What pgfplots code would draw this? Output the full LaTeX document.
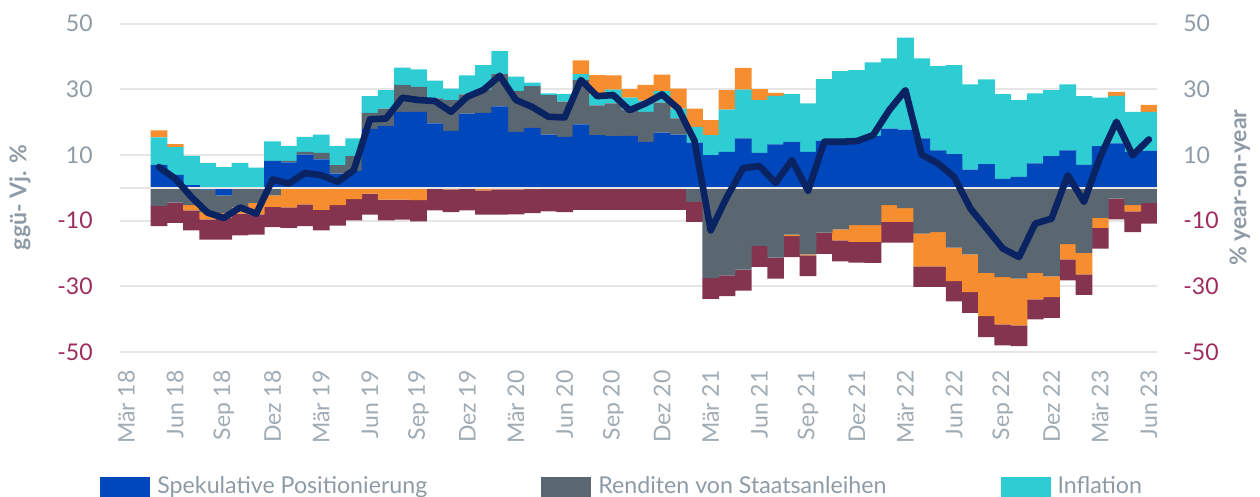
\documentclass[border=0pt]{standalone}
\usepackage{fontspec}
\setmainfont{Lato}
\usepackage{pgfplots}
\pgfplotsset{compat=1.18}
\usepackage{pgfplotstable}
\definecolor{cblue}{HTML}{0047BB}
\definecolor{cgray}{HTML}{5B6770}
\definecolor{ccyan}{HTML}{2ECCD3}
\definecolor{corange}{HTML}{F68D2E}
\definecolor{cmaroon}{HTML}{85344F}
\definecolor{cline}{HTML}{0A2463}
\definecolor{tgray}{HTML}{8E9BA6}
\definecolor{xgray}{HTML}{A0ABB4}
\definecolor{tneg}{HTML}{9E2B5E}
\definecolor{gridc}{HTML}{E6E6E6}

% positive contributions (x: 0 = Mar 2018)
\pgfplotstableread{
x blue gray cyan orange
2 7.0 0 8.3 2.2
3 3.9 0 8.5 0.9
4 0.8 0 8.9 0
5 0 0 7.6 0
6 0 0 6.3 0
7 0 0 7.6 0
8 0 0 6.1 0
9 8.2 0 5.9 0
10 7.7 0.5 4.5 0
11 10.1 0.8 4.6 0
12 8.6 2.0 5.6 0
13 4.3 2.6 5.8 0
14 5.1 4.5 5.4 0
15 17.9 4.9 5.1 0
16 18.8 5.3 5.6 0
17 23.1 8.2 5.3 0
18 23.1 7.6 5.3 0
19 19.6 7.6 5.4 0
20 17.3 9.4 3.5 0
21 22.6 5.8 5.8 0
22 22.8 7.1 7.4 0
23 24.8 9.8 7.0 0
24 17.0 12.4 4.4 0
25 18.2 12.7 1.1 0
26 16.2 12.0 0.5 0
27 15.5 10.7 2.3 0
28 19.3 13.5 1.8 4.2
29 16.0 9.1 3.3 5.9
30 15.7 10.0 4.2 4.3
31 15.8 8.0 3.6 2.6
32 14.0 9.1 3.4 4.8
33 16.8 9.1 3.5 5.0
34 16.2 4.9 3.0 6.1
35 13.7 0 4.8 5.6
36 9.9 0 6.1 4.6
37 10.9 0 12.9 5.9
38 15.0 0 14.9 6.6
39 10.6 0 16.1 3.3
40 13.2 0 14.8 0.9
41 14.0 0 14.5 0
42 10.9 0 14.8 0
43 14.3 0 18.8 0
44 14.8 0 20.7 0
45 14.5 0 21.3 0
46 15.8 0 22.4 0
47 18.0 0 21.4 0
48 17.7 0 28.0 0
49 15.0 0 24.4 0
50 11.4 0 25.6 0
51 10.2 0 27.1 0
52 5.5 0 26.0 0
53 7.2 0 25.8 0
54 2.7 0 25.8 0
55 3.3 0 23.4 0
56 7.4 0 21.3 0
57 9.6 0 20.1 0
58 11.4 0 20.1 0
59 7.0 0 20.9 0
60 12.7 0 14.7 0
61 13.5 0 14.5 1.2
62 10.9 0 12.2 0
63 11.2 0 11.9 2.1
}\pos

% negative contributions
\pgfplotstableread{
x blue gray orange maroon
2 0 -5.5 0 -6.2
3 0 -4.5 0 -6.2
4 0 -5.3 -1.6 -6.1
5 -0.6 -6.8 -2.2 -6.2
6 -2.3 -5.4 -1.5 -6.6
7 0 -6.0 -1.9 -6.6
8 0 -4.6 -3.5 -6.2
9 0 -2.3 -3.5 -6.2
10 0 0 -6.0 -6.2
11 0 0 -5.1 -6.6
12 0 0 -6.7 -6.3
13 0 0 -5.3 -6.2
14 0 0 -3.5 -6.4
15 0 0 -1.8 -6.4
16 0 0 -3.6 -6.3
17 0 0 -3.6 -6.1
18 0 0 -3.8 -6.4
19 0 0 -0.2 -6.7
20 0 0 -0.5 -6.9
21 0 0 -0.2 -6.7
22 0 0 -0.8 -7.4
23 0 0 -0.5 -7.7
24 0 0 -0.5 -7.6
25 0 0 -0.4 -7.3
26 0 0 -0.3 -6.9
27 0 0 -0.3 -7.1
28 0 0 0 -6.7
29 0 0 0 -6.7
30 0 0 0 -6.7
31 0 0 0 -6.7
32 0 0 0 -6.7
33 0 0 0 -6.7
34 0 0 0 -6.7
35 0 -4.3 0 -6.1
36 0 -27.5 0 -6.3
37 0 -26.7 0 -6.3
38 0 -24.9 0 -6.4
39 0 -17.7 0 -6.4
40 0 -21.3 0 -6.4
41 0 -14.3 -0.4 -6.4
42 0 -20.3 -0.3 -6.3
43 0 -13.7 0 -6.4
44 0 -12.7 -3.3 -6.4
45 0 -11.4 -5.1 -6.3
46 0 -11.4 -5.1 -6.4
47 0 -5.3 -5.1 -6.3
48 0 -6.2 -4.2 -6.3
49 0 -14.0 -9.9 -6.3
50 0 -13.5 -10.4 -6.3
51 0 -18.2 -10.2 -6.2
52 0 -20.3 -11.5 -6.3
53 0 -25.9 -13.2 -6.4
54 0 -27.2 -14.4 -6.4
55 0 -27.7 -14.2 -6.3
56 0 -25.9 -8.1 -6.1
57 0 -27.0 -6.3 -6.3
58 0 -17.2 -4.6 -6.4
59 0 -19.8 -6.6 -6.2
60 0 -9.2 -3.0 -6.3
61 0 -3.3 0 -6.3
62 0 -5.3 -1.9 -6.3
63 0 -4.6 0 -6.3
}\neg

% total, % year-on-year
\pgfplotstableread{
x v
2 6.3
3 2.8
4 -2.8
5 -7.6
6 -9.2
7 -6.0
8 -7.9
9 2.5
10 1.3
11 4.5
12 3.8
13 1.8
14 5.3
15 20.8
16 21.1
17 27.4
18 26.7
19 26.4
20 23.1
21 27.7
22 29.8
23 34.1
24 26.7
25 24.6
26 21.6
27 21.4
28 32.8
29 27.9
30 28.2
31 23.6
32 25.7
33 28.4
34 24.1
35 14.3
36 -13.0
37 -2.8
38 6.0
39 6.6
40 1.5
41 8.4
42 -0.9
43 14.0
44 14.0
45 14.2
46 16.0
47 23.6
48 29.7
49 10.1
50 7.4
51 3.3
52 -6.3
53 -12.4
54 -18.5
55 -21.1
56 -10.9
57 -9.4
58 3.8
59 -4.3
60 9.4
61 20.1
62 9.9
63 14.7
}\lin

\tikzset{lblfont/.style={font=\fontsize{11.5}{13}\selectfont},
  legfont/.style={font=\fontsize{11.6}{13}\selectfont}}
\pgfplotsset{
  base/.style={scale only axis, width=518.5pt, height=164.25pt,
    xmin=-0.4, xmax=63.5, ymin=-50, ymax=50,
    at={(0pt,0pt)}, anchor=south west},
}

\begin{document}
\begin{tikzpicture}
% axis A: grid, positive bars, left axis, x labels, legend
\begin{axis}[base, ybar stacked, bar width=1.03,
  axis x line*=bottom, axis y line*=left, axis line style={draw=none},
  major tick length=0pt,
  ytick={-50,-30,-10,10,30,50},
  yticklabels={\textcolor{tneg}{-50},\textcolor{tneg}{-30},\textcolor{tneg}{-10},10,30,50},
  yticklabel style={lblfont, text=tgray, inner sep=0pt},
  yticklabel shift=13.5pt,
  ymajorgrids, grid style={draw=gridc, line width=1pt},
  xtick={0,3,...,63},
  xticklabels={Mär 18,Jun 18,Sep 18,Dez 18,Mär 19,Jun 19,Sep 19,Dez 19,Mär 20,Jun 20,Sep 20,Dez 20,Mär 21,Jun 21,Sep 21,Dez 21,Mär 22,Jun 22,Sep 22,Dez 22,Mär 23,Jun 23},
  xticklabel style={lblfont, text=xgray, rotate=90, anchor=east, inner sep=0pt},
  xticklabel shift=9pt,
  ylabel={\bfseries ggü- Vj. \%},
  every axis y label/.style={at={(axis description cs:-0.0964,0.47)}, rotate=90, anchor=center, lblfont, text=tgray},
  legend style={at={(axis description cs:-0.0193,-0.366)}, anchor=north west,
    draw=none, fill=none, legfont, text=tgray, inner sep=0pt,
    /tikz/every odd column/.append style={column sep=1.5pt},
    /tikz/every even column/.append style={column sep=55pt}},
  legend columns=3, legend cell align=left,
  legend image code/.code={\fill[#1] (0pt,-6pt) rectangle (25pt,5pt);},
]
\addplot[fill=cblue, draw=none] table[x=x,y=blue]{\pos};
\addlegendentry{Spekulative Positionierung}
\addplot[fill=cgray, draw=none] table[x=x,y=gray]{\pos};
\addlegendentry{Renditen von Staatsanleihen}
\addplot[fill=ccyan, draw=none] table[x=x,y=cyan]{\pos};
\addlegendentry{Inflation}
\addplot[fill=corange, draw=none] table[x=x,y=orange]{\pos};
\end{axis}

% axis B: negative bars, right axis
\begin{axis}[base, ybar stacked, bar width=1.03,
  axis x line=none, axis y line*=right, axis line style={draw=none},
  major tick length=0pt,
  ytick={-50,-30,-10,10,30,50},
  yticklabels={\textcolor{tneg}{-50},\textcolor{tneg}{-30},\textcolor{tneg}{-10},10,30,50},
  yticklabel style={lblfont, text=tgray, inner sep=0pt},
  yticklabel shift=13pt,
  ylabel={\bfseries \% year-on-year},
  every axis y label/.style={at={(axis description cs:1.080,0.5)}, rotate=90, anchor=center, lblfont, text=tgray},
]
\addplot[fill=cblue, draw=none] table[x=x,y=blue]{\neg};
\addplot[fill=cgray, draw=none] table[x=x,y=gray]{\neg};
\addplot[fill=corange, draw=none] table[x=x,y=orange]{\neg};
\addplot[fill=cmaroon, draw=none] table[x=x,y=maroon]{\neg};
\end{axis}

% axis C: zero line and total line
\begin{axis}[base, hide axis]
\addplot[draw=gridc, line width=1pt, mark=none] coordinates {(-0.4,0) (63.5,0)};
\addplot[draw=cline, line width=3.3pt, line join=round, line cap=round, mark=none] table[x=x,y=v]{\lin};
\end{axis}

\pgfresetboundingbox
\path[use as bounding box] (-60pt,-72.5pt) rectangle (570pt,176pt);
\end{tikzpicture}
\end{document}
